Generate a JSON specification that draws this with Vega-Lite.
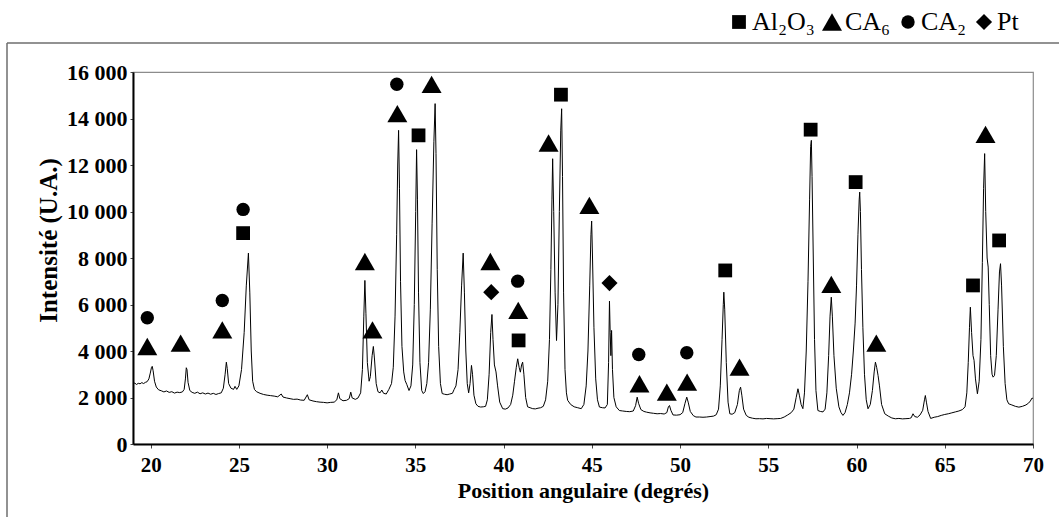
{
  "$schema": "https://vega.github.io/schema/vega-lite/v6.json",
  "width": 900,
  "height": 372,
  "autosize": {"type": "none"},
  "padding": {"left": 133, "top": 72, "right": 26, "bottom": 73},
  "background": "white",
  "config": {
    "view": {"stroke": "#8c8c8c", "strokeWidth": 1.2},
    "font": "Liberation Serif",
    "axis": {
      "grid": false,
      "domainColor": "black",
      "domainWidth": 2,
      "labelFont": "Liberation Serif",
      "labelFontWeight": "bold",
      "labelFontSize": 21,
      "labelColor": "black",
      "titleFont": "Liberation Serif",
      "titleFontWeight": "bold",
      "titleColor": "black",
      "tickColor": "#444",
      "tickWidth": 1
    }
  },
  "datasets": {
    "pattern": [
      {"angle": 19.00, "intensity": 2580}, {"angle": 19.10, "intensity": 2620}, {"angle": 19.20, "intensity": 2560}, {"angle": 19.30, "intensity": 2610},
      {"angle": 19.40, "intensity": 2590}, {"angle": 19.50, "intensity": 2640}, {"angle": 19.60, "intensity": 2600}, {"angle": 19.70, "intensity": 2650},
      {"angle": 19.80, "intensity": 2680}, {"angle": 19.90, "intensity": 2800}, {"angle": 19.98, "intensity": 3050}, {"angle": 20.05, "intensity": 3300},
      {"angle": 20.09, "intensity": 3340}, {"angle": 20.14, "intensity": 3150}, {"angle": 20.22, "intensity": 2700}, {"angle": 20.32, "intensity": 2450},
      {"angle": 20.45, "intensity": 2330}, {"angle": 20.60, "intensity": 2290}, {"angle": 20.75, "intensity": 2240}, {"angle": 20.90, "intensity": 2280},
      {"angle": 21.05, "intensity": 2220}, {"angle": 21.20, "intensity": 2250}, {"angle": 21.35, "intensity": 2190}, {"angle": 21.50, "intensity": 2230},
      {"angle": 21.65, "intensity": 2210}, {"angle": 21.80, "intensity": 2240}, {"angle": 21.90, "intensity": 2350}, {"angle": 21.97, "intensity": 2800},
      {"angle": 22.02, "intensity": 3280}, {"angle": 22.06, "intensity": 3200}, {"angle": 22.12, "intensity": 2650}, {"angle": 22.22, "intensity": 2300},
      {"angle": 22.35, "intensity": 2220}, {"angle": 22.50, "intensity": 2180}, {"angle": 22.65, "intensity": 2230}, {"angle": 22.80, "intensity": 2160},
      {"angle": 22.95, "intensity": 2200}, {"angle": 23.10, "intensity": 2150}, {"angle": 23.25, "intensity": 2190}, {"angle": 23.40, "intensity": 2140},
      {"angle": 23.55, "intensity": 2180}, {"angle": 23.70, "intensity": 2130}, {"angle": 23.85, "intensity": 2170}, {"angle": 24.00, "intensity": 2200},
      {"angle": 24.12, "intensity": 2400}, {"angle": 24.22, "intensity": 3000}, {"angle": 24.29, "intensity": 3520}, {"angle": 24.34, "intensity": 3250},
      {"angle": 24.42, "intensity": 2600}, {"angle": 24.55, "intensity": 2400}, {"angle": 24.70, "intensity": 2350}, {"angle": 24.78, "intensity": 2480},
      {"angle": 24.88, "intensity": 2350}, {"angle": 25.00, "intensity": 2500}, {"angle": 25.15, "intensity": 3200}, {"angle": 25.30, "intensity": 4800},
      {"angle": 25.42, "intensity": 6800}, {"angle": 25.54, "intensity": 8210}, {"angle": 25.62, "intensity": 6500}, {"angle": 25.70, "intensity": 4000},
      {"angle": 25.78, "intensity": 2700}, {"angle": 25.88, "intensity": 2350}, {"angle": 26.00, "intensity": 2250}, {"angle": 26.20, "intensity": 2180},
      {"angle": 26.40, "intensity": 2130}, {"angle": 26.60, "intensity": 2100}, {"angle": 26.80, "intensity": 2080}, {"angle": 27.00, "intensity": 2060},
      {"angle": 27.20, "intensity": 2030}, {"angle": 27.40, "intensity": 2150}, {"angle": 27.50, "intensity": 2020}, {"angle": 27.70, "intensity": 1980},
      {"angle": 27.90, "intensity": 1950}, {"angle": 28.10, "intensity": 1920}, {"angle": 28.30, "intensity": 1930}, {"angle": 28.50, "intensity": 1890},
      {"angle": 28.70, "intensity": 1880}, {"angle": 28.88, "intensity": 2120}, {"angle": 28.98, "intensity": 1900}, {"angle": 29.20, "intensity": 1850},
      {"angle": 29.40, "intensity": 1820}, {"angle": 29.60, "intensity": 1800}, {"angle": 29.80, "intensity": 1790}, {"angle": 30.00, "intensity": 1770},
      {"angle": 30.20, "intensity": 1790}, {"angle": 30.40, "intensity": 1800}, {"angle": 30.55, "intensity": 1900}, {"angle": 30.64, "intensity": 2200},
      {"angle": 30.72, "intensity": 1950}, {"angle": 30.90, "intensity": 1860}, {"angle": 31.10, "intensity": 1880}, {"angle": 31.25, "intensity": 1950},
      {"angle": 31.34, "intensity": 2230}, {"angle": 31.42, "intensity": 1980}, {"angle": 31.60, "intensity": 1920}, {"angle": 31.75, "intensity": 1980},
      {"angle": 31.90, "intensity": 2200}, {"angle": 32.00, "intensity": 3200}, {"angle": 32.08, "intensity": 5500}, {"angle": 32.14, "intensity": 7035},
      {"angle": 32.20, "intensity": 5600}, {"angle": 32.28, "intensity": 3500}, {"angle": 32.38, "intensity": 2700}, {"angle": 32.45, "intensity": 2900},
      {"angle": 32.55, "intensity": 3800}, {"angle": 32.62, "intensity": 4195}, {"angle": 32.68, "intensity": 3700}, {"angle": 32.78, "intensity": 2600},
      {"angle": 32.88, "intensity": 2250}, {"angle": 33.00, "intensity": 2200}, {"angle": 33.10, "intensity": 2320}, {"angle": 33.20, "intensity": 2180},
      {"angle": 33.35, "intensity": 2150}, {"angle": 33.50, "intensity": 2350}, {"angle": 33.65, "intensity": 2600}, {"angle": 33.75, "intensity": 3300},
      {"angle": 33.85, "intensity": 5500}, {"angle": 33.94, "intensity": 9000}, {"angle": 34.00, "intensity": 12000}, {"angle": 34.05, "intensity": 13490},
      {"angle": 34.10, "intensity": 11000}, {"angle": 34.16, "intensity": 7000}, {"angle": 34.24, "intensity": 4200}, {"angle": 34.34, "intensity": 3100},
      {"angle": 34.42, "intensity": 2730}, {"angle": 34.52, "intensity": 2550}, {"angle": 34.64, "intensity": 2300}, {"angle": 34.75, "intensity": 2500},
      {"angle": 34.85, "intensity": 3400}, {"angle": 34.94, "intensity": 6000}, {"angle": 35.02, "intensity": 10000}, {"angle": 35.07, "intensity": 12660},
      {"angle": 35.12, "intensity": 10500}, {"angle": 35.18, "intensity": 6500}, {"angle": 35.26, "intensity": 3500}, {"angle": 35.36, "intensity": 2300},
      {"angle": 35.45, "intensity": 2170}, {"angle": 35.55, "intensity": 2250}, {"angle": 35.65, "intensity": 2600}, {"angle": 35.75, "intensity": 3500},
      {"angle": 35.85, "intensity": 5800}, {"angle": 35.95, "intensity": 9500}, {"angle": 36.05, "intensity": 13000}, {"angle": 36.12, "intensity": 14640},
      {"angle": 36.17, "intensity": 12500}, {"angle": 36.24, "intensity": 7500}, {"angle": 36.32, "intensity": 4200}, {"angle": 36.42, "intensity": 2600},
      {"angle": 36.52, "intensity": 2170}, {"angle": 36.65, "intensity": 2140}, {"angle": 36.80, "intensity": 2120}, {"angle": 36.95, "intensity": 2150},
      {"angle": 37.10, "intensity": 2180}, {"angle": 37.20, "intensity": 2350}, {"angle": 37.30, "intensity": 2500}, {"angle": 37.42, "intensity": 3200},
      {"angle": 37.52, "intensity": 4800}, {"angle": 37.62, "intensity": 6800}, {"angle": 37.71, "intensity": 8210}, {"angle": 37.78, "intensity": 6500},
      {"angle": 37.86, "intensity": 4000}, {"angle": 37.94, "intensity": 2600}, {"angle": 38.02, "intensity": 2200}, {"angle": 38.10, "intensity": 2600},
      {"angle": 38.18, "intensity": 3380}, {"angle": 38.24, "intensity": 3000}, {"angle": 38.32, "intensity": 2100}, {"angle": 38.43, "intensity": 1730},
      {"angle": 38.55, "intensity": 1620}, {"angle": 38.70, "intensity": 1590}, {"angle": 38.85, "intensity": 1600}, {"angle": 38.98, "intensity": 1620},
      {"angle": 39.08, "intensity": 1900}, {"angle": 39.18, "intensity": 3000}, {"angle": 39.27, "intensity": 4800}, {"angle": 39.34, "intensity": 5570},
      {"angle": 39.40, "intensity": 4500}, {"angle": 39.48, "intensity": 3400}, {"angle": 39.57, "intensity": 3100}, {"angle": 39.66, "intensity": 2500},
      {"angle": 39.78, "intensity": 1800}, {"angle": 39.95, "intensity": 1520}, {"angle": 40.10, "intensity": 1500}, {"angle": 40.25, "intensity": 1550},
      {"angle": 40.40, "intensity": 1700}, {"angle": 40.52, "intensity": 2100}, {"angle": 40.62, "intensity": 2700}, {"angle": 40.72, "intensity": 3300},
      {"angle": 40.80, "intensity": 3665}, {"angle": 40.88, "intensity": 3300}, {"angle": 40.95, "intensity": 3090}, {"angle": 41.02, "intensity": 3400},
      {"angle": 41.08, "intensity": 3520}, {"angle": 41.15, "intensity": 3000}, {"angle": 41.25, "intensity": 2000}, {"angle": 41.36, "intensity": 1600},
      {"angle": 41.50, "intensity": 1560}, {"angle": 41.65, "intensity": 1520}, {"angle": 41.80, "intensity": 1510}, {"angle": 41.95, "intensity": 1540},
      {"angle": 42.10, "intensity": 1560}, {"angle": 42.25, "intensity": 1620}, {"angle": 42.38, "intensity": 1900}, {"angle": 42.50, "intensity": 2700},
      {"angle": 42.60, "intensity": 4500}, {"angle": 42.68, "intensity": 7500}, {"angle": 42.74, "intensity": 10500}, {"angle": 42.78, "intensity": 12270},
      {"angle": 42.84, "intensity": 10000}, {"angle": 42.92, "intensity": 6500}, {"angle": 43.00, "intensity": 4450}, {"angle": 43.08, "intensity": 6000},
      {"angle": 43.16, "intensity": 10000}, {"angle": 43.24, "intensity": 13500}, {"angle": 43.29, "intensity": 14420}, {"angle": 43.34, "intensity": 11500},
      {"angle": 43.40, "intensity": 6500}, {"angle": 43.48, "intensity": 3200}, {"angle": 43.56, "intensity": 2200}, {"angle": 43.63, "intensity": 1880},
      {"angle": 43.80, "intensity": 1700}, {"angle": 44.00, "intensity": 1600}, {"angle": 44.20, "intensity": 1560}, {"angle": 44.40, "intensity": 1520},
      {"angle": 44.55, "intensity": 1700}, {"angle": 44.68, "intensity": 2500}, {"angle": 44.78, "intensity": 4000}, {"angle": 44.88, "intensity": 6800},
      {"angle": 44.95, "intensity": 9000}, {"angle": 44.99, "intensity": 9590}, {"angle": 45.04, "intensity": 8000}, {"angle": 45.12, "intensity": 5000},
      {"angle": 45.22, "intensity": 2800}, {"angle": 45.32, "intensity": 1900}, {"angle": 45.43, "intensity": 1590}, {"angle": 45.60, "intensity": 1560},
      {"angle": 45.75, "intensity": 1550}, {"angle": 45.88, "intensity": 1700}, {"angle": 45.95, "intensity": 3500}, {"angle": 46.00, "intensity": 6145},
      {"angle": 46.04, "intensity": 4800}, {"angle": 46.08, "intensity": 3800}, {"angle": 46.12, "intensity": 4885}, {"angle": 46.17, "intensity": 3200},
      {"angle": 46.25, "intensity": 2000}, {"angle": 46.38, "intensity": 1600}, {"angle": 46.56, "intensity": 1440}, {"angle": 46.75, "intensity": 1420},
      {"angle": 46.95, "intensity": 1400}, {"angle": 47.15, "intensity": 1390}, {"angle": 47.35, "intensity": 1420}, {"angle": 47.48, "intensity": 1650},
      {"angle": 47.57, "intensity": 2015}, {"angle": 47.65, "intensity": 1750}, {"angle": 47.78, "intensity": 1480}, {"angle": 47.95, "intensity": 1400},
      {"angle": 48.10, "intensity": 1370}, {"angle": 48.30, "intensity": 1340}, {"angle": 48.50, "intensity": 1320}, {"angle": 48.70, "intensity": 1300},
      {"angle": 48.90, "intensity": 1310}, {"angle": 49.10, "intensity": 1290}, {"angle": 49.25, "intensity": 1350}, {"angle": 49.34, "intensity": 1600},
      {"angle": 49.40, "intensity": 1655}, {"angle": 49.48, "intensity": 1450}, {"angle": 49.60, "intensity": 1250}, {"angle": 49.80, "intensity": 1240},
      {"angle": 50.00, "intensity": 1260}, {"angle": 50.15, "intensity": 1350}, {"angle": 50.28, "intensity": 1750}, {"angle": 50.38, "intensity": 2015},
      {"angle": 50.46, "intensity": 1800}, {"angle": 50.58, "intensity": 1400}, {"angle": 50.75, "intensity": 1220}, {"angle": 50.90, "intensity": 1160},
      {"angle": 51.10, "intensity": 1160}, {"angle": 51.30, "intensity": 1150}, {"angle": 51.50, "intensity": 1160}, {"angle": 51.70, "intensity": 1180},
      {"angle": 51.90, "intensity": 1200}, {"angle": 52.05, "intensity": 1260}, {"angle": 52.18, "intensity": 1500}, {"angle": 52.28, "intensity": 2500},
      {"angle": 52.38, "intensity": 4500}, {"angle": 52.45, "intensity": 6000}, {"angle": 52.48, "intensity": 6530}, {"angle": 52.53, "intensity": 5800},
      {"angle": 52.62, "intensity": 3500}, {"angle": 52.72, "intensity": 1800}, {"angle": 52.82, "intensity": 1300}, {"angle": 52.95, "intensity": 1280},
      {"angle": 53.10, "intensity": 1350}, {"angle": 53.25, "intensity": 1700}, {"angle": 53.36, "intensity": 2300}, {"angle": 53.43, "intensity": 2445},
      {"angle": 53.50, "intensity": 2100}, {"angle": 53.60, "intensity": 1500}, {"angle": 53.75, "intensity": 1230}, {"angle": 53.90, "intensity": 1150},
      {"angle": 54.10, "intensity": 1110}, {"angle": 54.30, "intensity": 1085}, {"angle": 54.50, "intensity": 1090}, {"angle": 54.70, "intensity": 1080},
      {"angle": 54.90, "intensity": 1100}, {"angle": 55.10, "intensity": 1090}, {"angle": 55.30, "intensity": 1080}, {"angle": 55.50, "intensity": 1090},
      {"angle": 55.70, "intensity": 1100}, {"angle": 55.90, "intensity": 1160}, {"angle": 56.10, "intensity": 1250}, {"angle": 56.30, "intensity": 1350},
      {"angle": 56.45, "intensity": 1500}, {"angle": 56.58, "intensity": 2000}, {"angle": 56.68, "intensity": 2375}, {"angle": 56.76, "intensity": 2100},
      {"angle": 56.86, "intensity": 1700}, {"angle": 56.96, "intensity": 1520}, {"angle": 57.05, "intensity": 2200}, {"angle": 57.15, "intensity": 4000},
      {"angle": 57.25, "intensity": 7000}, {"angle": 57.34, "intensity": 10500}, {"angle": 57.40, "intensity": 12800}, {"angle": 57.44, "intensity": 13060},
      {"angle": 57.48, "intensity": 11500}, {"angle": 57.55, "intensity": 8000}, {"angle": 57.62, "intensity": 4500}, {"angle": 57.70, "intensity": 2300},
      {"angle": 57.81, "intensity": 1440}, {"angle": 57.95, "intensity": 1400}, {"angle": 58.10, "intensity": 1380}, {"angle": 58.22, "intensity": 1500},
      {"angle": 58.32, "intensity": 2200}, {"angle": 58.42, "intensity": 3800}, {"angle": 58.50, "intensity": 5500}, {"angle": 58.57, "intensity": 6315},
      {"angle": 58.63, "intensity": 5500}, {"angle": 58.72, "intensity": 3800}, {"angle": 58.85, "intensity": 2400}, {"angle": 59.00, "intensity": 1600},
      {"angle": 59.12, "intensity": 1350}, {"angle": 59.23, "intensity": 1230}, {"angle": 59.35, "intensity": 1350}, {"angle": 59.48, "intensity": 1700},
      {"angle": 59.60, "intensity": 2200}, {"angle": 59.72, "intensity": 3000}, {"angle": 59.82, "intensity": 4000}, {"angle": 59.92, "intensity": 5200},
      {"angle": 60.00, "intensity": 6800}, {"angle": 60.08, "intensity": 9000}, {"angle": 60.15, "intensity": 10500}, {"angle": 60.18, "intensity": 10835},
      {"angle": 60.22, "intensity": 10000}, {"angle": 60.28, "intensity": 7500}, {"angle": 60.36, "intensity": 5000}, {"angle": 60.45, "intensity": 3000},
      {"angle": 60.55, "intensity": 1900}, {"angle": 60.65, "intensity": 1515}, {"angle": 60.78, "intensity": 1700}, {"angle": 60.90, "intensity": 2300},
      {"angle": 61.00, "intensity": 3100}, {"angle": 61.07, "intensity": 3520}, {"angle": 61.14, "intensity": 3300}, {"angle": 61.22, "intensity": 2950},
      {"angle": 61.30, "intensity": 2500}, {"angle": 61.42, "intensity": 1700}, {"angle": 61.60, "intensity": 1300}, {"angle": 61.80, "intensity": 1200},
      {"angle": 62.00, "intensity": 1120}, {"angle": 62.20, "intensity": 1085}, {"angle": 62.40, "intensity": 1100}, {"angle": 62.60, "intensity": 1080},
      {"angle": 62.80, "intensity": 1090}, {"angle": 63.00, "intensity": 1100}, {"angle": 63.10, "intensity": 1130}, {"angle": 63.20, "intensity": 1300},
      {"angle": 63.30, "intensity": 1180}, {"angle": 63.45, "intensity": 1150}, {"angle": 63.60, "intensity": 1250}, {"angle": 63.75, "intensity": 1450},
      {"angle": 63.85, "intensity": 1900}, {"angle": 63.90, "intensity": 2085}, {"angle": 63.96, "intensity": 1800}, {"angle": 64.05, "intensity": 1400},
      {"angle": 64.20, "intensity": 1100}, {"angle": 64.40, "intensity": 1150}, {"angle": 64.60, "intensity": 1180}, {"angle": 64.80, "intensity": 1230},
      {"angle": 65.00, "intensity": 1270}, {"angle": 65.20, "intensity": 1300}, {"angle": 65.40, "intensity": 1340}, {"angle": 65.60, "intensity": 1380},
      {"angle": 65.80, "intensity": 1420}, {"angle": 66.00, "intensity": 1480}, {"angle": 66.15, "intensity": 1600}, {"angle": 66.25, "intensity": 2200},
      {"angle": 66.33, "intensity": 3500}, {"angle": 66.40, "intensity": 5000}, {"angle": 66.45, "intensity": 5885}, {"angle": 66.52, "intensity": 4800},
      {"angle": 66.60, "intensity": 3800}, {"angle": 66.66, "intensity": 3600}, {"angle": 66.74, "intensity": 2800}, {"angle": 66.85, "intensity": 2160},
      {"angle": 66.95, "intensity": 2700}, {"angle": 67.05, "intensity": 4500}, {"angle": 67.13, "intensity": 7800}, {"angle": 67.20, "intensity": 11000},
      {"angle": 67.26, "intensity": 12490}, {"angle": 67.32, "intensity": 10000}, {"angle": 67.40, "intensity": 8000}, {"angle": 67.46, "intensity": 7610},
      {"angle": 67.52, "intensity": 6000}, {"angle": 67.60, "intensity": 3800}, {"angle": 67.68, "intensity": 3000}, {"angle": 67.74, "intensity": 2875},
      {"angle": 67.82, "intensity": 2950}, {"angle": 67.92, "intensity": 3800}, {"angle": 68.02, "intensity": 5800}, {"angle": 68.10, "intensity": 7400},
      {"angle": 68.16, "intensity": 7755}, {"angle": 68.22, "intensity": 6800}, {"angle": 68.32, "intensity": 4200}, {"angle": 68.42, "intensity": 2600},
      {"angle": 68.52, "intensity": 1900}, {"angle": 68.62, "intensity": 1730}, {"angle": 68.80, "intensity": 1680}, {"angle": 69.00, "intensity": 1620},
      {"angle": 69.20, "intensity": 1585}, {"angle": 69.40, "intensity": 1620}, {"angle": 69.60, "intensity": 1680}, {"angle": 69.75, "intensity": 1760},
      {"angle": 69.85, "intensity": 1850}, {"angle": 69.95, "intensity": 1980}, {"angle": 70.00, "intensity": 1950}
    ],
    "markers": [
      {"angle": 19.81, "intensity": 5430, "phase": "CA₂"},
      {"angle": 24.06, "intensity": 6175, "phase": "CA₂"},
      {"angle": 25.24, "intensity": 10090, "phase": "CA₂"},
      {"angle": 33.95, "intensity": 15470, "phase": "CA₂"},
      {"angle": 40.80, "intensity": 7005, "phase": "CA₂"},
      {"angle": 47.66, "intensity": 3850, "phase": "CA₂"},
      {"angle": 50.38, "intensity": 3925, "phase": "CA₂"},
      {"angle": 19.81, "intensity": 4195, "phase": "CA₆"},
      {"angle": 21.70, "intensity": 4340, "phase": "CA₆"},
      {"angle": 24.06, "intensity": 4910, "phase": "CA₆"},
      {"angle": 32.14, "intensity": 7850, "phase": "CA₆"},
      {"angle": 32.57, "intensity": 4910, "phase": "CA₆"},
      {"angle": 33.98, "intensity": 14210, "phase": "CA₆"},
      {"angle": 35.92, "intensity": 15470, "phase": "CA₆"},
      {"angle": 39.25, "intensity": 7850, "phase": "CA₆"},
      {"angle": 40.83, "intensity": 5745, "phase": "CA₆"},
      {"angle": 42.55, "intensity": 12945, "phase": "CA₆"},
      {"angle": 44.86, "intensity": 10260, "phase": "CA₆"},
      {"angle": 47.70, "intensity": 2590, "phase": "CA₆"},
      {"angle": 49.25, "intensity": 2230, "phase": "CA₆"},
      {"angle": 50.40, "intensity": 2660, "phase": "CA₆"},
      {"angle": 53.37, "intensity": 3305, "phase": "CA₆"},
      {"angle": 58.57, "intensity": 6865, "phase": "CA₆"},
      {"angle": 61.12, "intensity": 4340, "phase": "CA₆"},
      {"angle": 67.31, "intensity": 13320, "phase": "CA₆"},
      {"angle": 25.24, "intensity": 9070, "phase": "Al₂O₃"},
      {"angle": 35.18, "intensity": 13275, "phase": "Al₂O₃"},
      {"angle": 40.85, "intensity": 4455, "phase": "Al₂O₃"},
      {"angle": 43.25, "intensity": 15025, "phase": "Al₂O₃"},
      {"angle": 52.56, "intensity": 7465, "phase": "Al₂O₃"},
      {"angle": 57.40, "intensity": 13520, "phase": "Al₂O₃"},
      {"angle": 59.95, "intensity": 11265, "phase": "Al₂O₃"},
      {"angle": 66.60, "intensity": 6820, "phase": "Al₂O₃"},
      {"angle": 68.08, "intensity": 8755, "phase": "Al₂O₃"},
      {"angle": 39.30, "intensity": 6530, "phase": "Pt"},
      {"angle": 46.00, "intensity": 6920, "phase": "Pt"}
    ]
  },
  "layer": [
    {
      "data": {"name": "pattern"},
      "mark": {"type": "line", "color": "black", "strokeWidth": 1, "interpolate": "linear"},
      "encoding": {
        "x": {
          "field": "angle",
          "type": "quantitative",
          "scale": {"domain": [19, 70], "nice": false, "zero": false},
          "axis": {
            "title": "Position angulaire (degrés)",
            "titleFontSize": 22,
            "values": [20, 25, 30, 35, 40, 45, 50, 55, 60, 65, 70],
            "tickSize": 4,
            "labelPadding": 6,
            "titlePadding": 5,
            "labelFlush": false
          }
        },
        "y": {
          "field": "intensity",
          "type": "quantitative",
          "scale": {"domain": [0, 16000], "nice": false, "zero": true},
          "axis": {
            "title": "Intensité (U.A.)",
            "titleFontSize": 25,
            "titleY": 168,
            "labelFontSize": 22,
            "values": [0, 2000, 4000, 6000, 8000, 10000, 12000, 14000, 16000],
            "labelExpr": "replace(format(datum.value, ','), ',', ' ')",
            "tickSize": 3,
            "labelPadding": 3,
            "titlePadding": 5,
            "labelFlush": false
          }
        }
      }
    },
    {
      "data": {"name": "markers"},
      "mark": {"type": "point", "filled": true, "color": "black", "opacity": 1, "strokeWidth": 0},
      "encoding": {
        "x": {"field": "angle", "type": "quantitative"},
        "y": {"field": "intensity", "type": "quantitative"},
        "shape": {
          "field": "phase",
          "type": "nominal",
          "scale": {"domain": ["Al₂O₃", "CA₆", "CA₂", "Pt"], "range": ["square", "triangle-up", "circle", "diamond"]},
          "legend": {
            "title": null,
            "orient": "none",
            "legendX": 593,
            "legendY": -63,
            "direction": "horizontal",
            "labelFont": "Liberation Serif",
            "labelFontSize": 26,
            "labelColor": "black",
            "labelOffset": 0,
            "columnPadding": 4,
            "symbolFillColor": "black",
            "symbolStrokeColor": "black",
            "symbolOpacity": 1,
            "symbolStrokeWidth": 0
          }
        },
        "size": {
          "field": "phase",
          "type": "nominal",
          "scale": {"type": "ordinal", "domain": ["Al₂O₃", "CA₆", "CA₂", "Pt"], "range": [190, 400, 180, 260]},
          "legend": {
            "title": null,
            "orient": "none",
            "legendX": 593,
            "legendY": -63,
            "direction": "horizontal",
            "labelFont": "Liberation Serif",
            "labelFontSize": 26,
            "labelColor": "black",
            "labelOffset": 0,
            "columnPadding": 4,
            "symbolFillColor": "black",
            "symbolStrokeColor": "black",
            "symbolOpacity": 1,
            "symbolStrokeWidth": 0
          }
        }
      }
    },
    {
      "data": {"values": [{}]},
      "mark": {"type": "rule", "color": "#6e6e6e", "strokeWidth": 1.5},
      "encoding": {
        "x": {"datum": 11.86, "type": "quantitative"},
        "x2": {"datum": 71.6},
        "y": {"datum": 17247, "type": "quantitative"}
      }
    },
    {
      "data": {"values": [{}]},
      "mark": {"type": "rule", "color": "#6e6e6e", "strokeWidth": 1.5},
      "encoding": {
        "x": {"datum": 11.86, "type": "quantitative"},
        "y": {"datum": 17247, "type": "quantitative"},
        "y2": {"datum": -3300}
      }
    }
  ]
}
